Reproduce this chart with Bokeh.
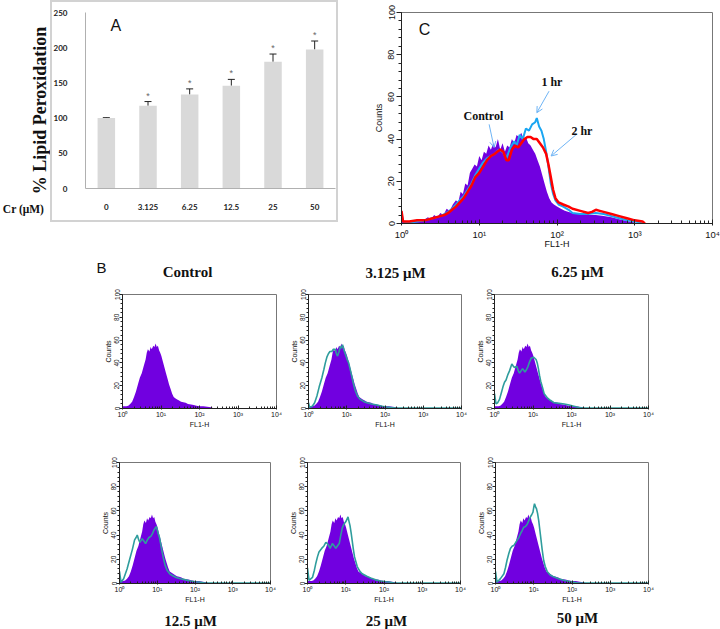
import math
from bokeh.plotting import figure
from bokeh.models import (Range1d, FactorRange, FixedTicker, Whisker, TeeHead, Label,
                          Arrow, OpenHead, ColumnDataSource)
from bokeh.layouts import row, column
from bokeh.core.properties import value
from bokeh.embed import file_html
from bokeh.resources import INLINE

# ---------------- Panel A : lipid peroxidation ----------------
conc_labels = ["0", "3.125", "6.25", "12.5", "25", "50"]
lipid_pct = [100, 117.5, 133.5, 146, 180, 197.5]
lipid_err = [0.6, 6, 8, 9, 11, 12]
signif = ["", "*", "*", "*", "*", "*"]
a_yticks = [0, 50, 100, 150, 200, 250]

# ---------------- Panel C : time course histograms (log10 FL1-H, counts) ----------------
c_ctrl_exp = [0.00, 0.02, 0.05, 0.10, 0.15, 0.20, 0.25, 0.30,
              0.34, 0.38, 0.42, 0.46, 0.50, 0.54, 0.58, 0.62, 0.66, 0.70,
              0.73, 0.76, 0.79, 0.82, 0.85, 0.88, 0.91, 0.94, 0.97, 1.00,
              1.03, 1.06, 1.09, 1.12, 1.15, 1.18, 1.21, 1.24, 1.27, 1.30,
              1.33, 1.36, 1.39, 1.42, 1.45, 1.48, 1.51, 1.54, 1.57, 1.60,
              1.63, 1.66, 1.69, 1.72, 1.75, 1.78, 1.81, 1.84, 1.87, 1.90,
              1.93, 1.96, 2.00, 2.05, 2.10, 2.15, 2.20,
              2.30, 2.40, 2.50, 2.60, 2.70, 2.80, 2.90, 3.00, 3.05]
c_ctrl_cnt = [6, 1, 0.5, 1, 0.5, 1.5, 1, 2,
              3, 2, 4, 3, 5, 4, 7, 6, 9, 11,
              10, 15, 14, 19, 18, 24, 26, 28, 27, 32,
              30, 34, 33, 37, 35, 38, 36, 40, 35, 38,
              34, 37, 36, 40, 38, 42, 41, 43, 40, 41,
              38, 37, 35, 33, 30, 27, 23, 19, 15, 12,
              10, 9, 8, 7, 6, 5.5, 5,
              4.5, 4, 4, 3.5, 3, 2, 1.2, 0.5, 0]

c_1hr_exp = [0.00, 0.02, 0.10, 0.20, 0.30, 0.40, 0.50, 0.55, 0.60, 0.65,
             0.70, 0.75, 0.80, 0.85, 0.90, 0.95, 1.00, 1.05, 1.10, 1.15,
             1.20, 1.25, 1.30, 1.35, 1.40, 1.45, 1.48, 1.52, 1.56, 1.60,
             1.64, 1.68, 1.72, 1.74, 1.77, 1.80, 1.83, 1.86, 1.89, 1.92,
             1.95, 1.98, 2.02, 2.08, 2.15, 2.20, 2.30, 2.40, 2.50, 2.60,
             2.70, 2.80, 2.90, 3.00, 3.10]
c_1hr_cnt = [5, 1, 0.5, 1, 1.5, 2.5, 3.5, 4.5, 5.5, 7,
             9, 11, 13, 16, 19, 23, 26, 29, 31, 32,
             33, 35, 34, 31, 36, 39, 37, 42, 40, 45,
             44, 47, 48, 50, 46, 44, 40, 34, 27, 19,
             14, 11, 9, 8, 6.5, 5, 4.5, 4.5, 5, 4.5,
             3.5, 2.5, 1.5, 1, 0]

c_2hr_exp = [0.00, 0.02, 0.10, 0.20, 0.30, 0.40, 0.50, 0.55, 0.60, 0.65,
             0.70, 0.75, 0.80, 0.85, 0.90, 0.95, 1.00, 1.05, 1.10, 1.15,
             1.20, 1.23, 1.27, 1.31, 1.35, 1.38, 1.42, 1.46, 1.50, 1.54,
             1.58, 1.62, 1.66, 1.70, 1.74, 1.78, 1.82, 1.86, 1.89, 1.92,
             1.95, 1.98, 2.02, 2.08, 2.15, 2.20, 2.30, 2.40, 2.45, 2.50,
             2.55, 2.60, 2.70, 2.80, 2.90, 3.00, 3.10, 3.13]
c_2hr_cnt = [6, 1, 1, 1.5, 1.5, 2.5, 3.5, 4, 5, 6.5,
             8, 10, 12, 15, 18, 22, 24, 27, 30, 32,
             33, 34, 35, 34, 30, 30, 35, 37, 36, 38,
             40, 41, 41, 40, 40, 38, 36, 33, 28, 22,
             16, 12, 10, 9, 8, 7, 6, 5, 5.5, 6.5,
             6, 5.5, 4.5, 3.5, 2.5, 1.5, 1, 0]

c_notes = ["Control", "1 hr", "2 hr"]
c_note_x = [11.3, 86, 209]
c_note_y = [51, 67, 44]
c_arrow_x0 = [13.4, 79, 175]
c_arrow_y0 = [47, 62.7, 42]
c_arrow_x1 = [15.5, 55, 84]
c_arrow_y1 = [36, 52.5, 32]

# ---------------- Panel B : dose histograms ----------------
b_titles_top = ["Control", "3.125 \u03bcM", "6.25 \u03bcM"]
b_titles_bottom = ["12.5 \u03bcM", "25 \u03bcM", "50 \u03bcM"]

b_ctrl_exp = [0.00, 0.05, 0.10, 0.15, 0.20, 0.25, 0.30, 0.35, 0.40, 0.45,
              0.50, 0.55, 0.60, 0.63, 0.66, 0.70, 0.73, 0.76, 0.80, 0.83,
              0.86, 0.89, 0.92, 0.95, 0.98, 1.01, 1.05, 1.09, 1.13, 1.17,
              1.21, 1.25, 1.29, 1.33, 1.37, 1.42, 1.47, 1.52, 1.58, 1.64,
              1.70, 1.78, 1.85, 1.92, 2.00, 2.10, 2.20, 2.30, 2.35, 2.50,
              3.00, 4.00]
b_ctrl_cnt = [2, 2, 2, 2.5, 4, 6, 10, 15, 21, 27,
              31, 37, 43, 49, 52, 50, 54, 52, 55, 54,
              57, 54, 55, 51, 49, 46, 41, 36, 31, 26,
              21, 17, 13, 10, 9, 8, 7, 6, 5.5, 5,
              4, 3.5, 3, 2.5, 2, 2, 1.5, 1, 0.5, 0.3,
              0.3, 0.3]

b_3125_exp = [0.00, 0.03, 0.10, 0.16, 0.22, 0.28, 0.35, 0.40, 0.44, 0.48,
              0.52, 0.56, 0.61, 0.65, 0.70, 0.73, 0.76, 0.80, 0.83, 0.86,
              0.89, 0.92, 0.96, 1.00, 1.05, 1.10, 1.14, 1.18, 1.22, 1.28,
              1.35, 1.45, 1.53, 1.65, 1.79, 1.92, 2.05, 2.20, 2.30, 4.00]
b_3125_cnt = [5, 1, 2, 5, 11, 19, 27, 34, 40, 45,
              48, 50, 50, 52, 52, 48, 46, 50, 54, 53,
              56, 52, 48, 44, 40, 33, 27, 21, 16, 11,
              8, 6, 5, 4, 3, 2, 1.3, 0.7, 0.3, 0.3]

b_625_exp = [0.00, 0.04, 0.08, 0.13, 0.18, 0.22, 0.26, 0.30, 0.35, 0.39,
             0.45, 0.49, 0.52, 0.58, 0.62, 0.65, 0.69, 0.73, 0.79, 0.83,
             0.86, 0.90, 0.95, 1.02, 1.08, 1.11, 1.14, 1.17, 1.20, 1.25,
             1.29, 1.38, 1.46, 1.55, 1.68, 1.81, 1.94, 2.06, 2.20, 2.30,
             4.00]
b_625_cnt = [13, 4, 5, 8, 14, 19, 23, 25, 30, 33,
             39, 37, 36, 37, 33, 31, 33, 35, 32, 34,
             36, 40, 44, 45, 43, 40, 35, 29, 24, 18,
             13, 9, 7, 5, 4.5, 4, 3, 2, 0.8, 0.3,
             0.3]

b_125_exp = [0.00, 0.04, 0.11, 0.20, 0.27, 0.34, 0.40, 0.44, 0.47, 0.51,
             0.54, 0.60, 0.65, 0.69, 0.74, 0.78, 0.83, 0.87, 0.91, 0.95,
             0.98, 1.02, 1.06, 1.09, 1.13, 1.17, 1.21, 1.26, 1.33, 1.40,
             1.50, 1.62, 1.75, 1.88, 2.00, 2.15, 2.25, 4.00]
b_125_cnt = [10, 1, 4, 12, 20, 28, 36, 38, 40, 36,
             34, 37, 35, 33, 36, 38, 39, 41, 44, 46,
             47, 42, 38, 33, 26, 20, 15, 11, 8, 6.6,
             5, 4, 3, 2, 1.5, 1, 0.3, 0.3]

b_25_exp = [0.00, 0.04, 0.13, 0.18, 0.22, 0.26, 0.30, 0.37, 0.43, 0.48,
            0.52, 0.56, 0.59, 0.62, 0.65, 0.70, 0.74, 0.78, 0.83, 0.87,
            0.91, 0.95, 1.00, 1.03, 1.06, 1.08, 1.11, 1.14, 1.17, 1.20,
            1.23, 1.30, 1.37, 1.43, 1.55, 1.65, 1.78, 1.91, 2.05, 2.17,
            2.25, 4.00]
b_25_cnt = [13, 2.6, 5, 11, 17, 22, 26, 29, 31, 34,
            33, 31, 29, 31, 33, 31, 29, 31, 33, 40,
            46, 49, 51, 53, 55, 52, 48, 42, 35, 28,
            22, 14, 10, 8, 6, 4.5, 3, 2, 1.5, 1,
            0.3, 0.3]

b_50_exp = [0.00, 0.04, 0.13, 0.22, 0.26, 0.30, 0.35, 0.39, 0.44, 0.48,
            0.53, 0.57, 0.61, 0.65, 0.70, 0.74, 0.78, 0.83, 0.87, 0.91,
            0.95, 0.98, 1.00, 1.02, 1.05, 1.07, 1.10, 1.13, 1.16, 1.19,
            1.22, 1.26, 1.30, 1.35, 1.43, 1.52, 1.65, 1.78, 1.90, 2.04,
            2.15, 4.00]
b_50_cnt = [10, 1, 4, 8, 13, 19, 25, 29, 31, 31.5,
            34, 36, 38, 41, 44, 46.5, 47, 49, 52, 55,
            57, 59, 63, 66, 63, 62, 58, 52, 44, 36,
            28, 19, 14, 10, 7, 5.5, 4, 2.7, 1.8, 1,
            0.3, 0.3]

x_major = [1, 10, 100, 1000, 10000]
x_tick_labels = ["10\u2070", "10\u00b9", "10\u00b2", "10\u00b3", "10\u2074"]
y_major = [0, 20, 40, 60, 80, 100]

# ---------------- styling ----------------
PURPLE = "#7100e0"
TEAL = "#2f9d9d"
BLUE = "#1aa6f2"
RED = "#ff0000"
ARROW = "#6fb4f5"
SERIF = "Liberation Serif"
SANS = "Liberation Sans"
INK = "#111111"

x_minor = [m * d for d in (1, 10, 100, 1000) for m in range(2, 10)]
y_minor = list(range(0, 101, 4))


def pow10(exps):
    return [10 ** e for e in exps]


def base_fig(**kw):
    p = figure(output_backend="svg", toolbar_location=None, **kw)
    p.grid.visible = False
    p.background_fill_color = "white"
    p.border_fill_color = "white"
    return p


def text_canvas(w, h):
    p = figure(frame_width=w, frame_height=h, x_range=Range1d(0, w), y_range=Range1d(h, 0),
               min_border=0, min_border_left=0, min_border_right=0, min_border_top=0,
               min_border_bottom=0, x_axis_location=None, y_axis_location=None,
               output_backend="svg", toolbar_location=None)
    p.grid.visible = False
    p.outline_line_color = None
    p.background_fill_color = "white"
    p.border_fill_color = "white"
    return p


def put_text(p, x, y, txt, font, size, bold=False, angle=0.0):
    p.text(x=[x], y=[y], text=[txt], angle=angle, text_align="center", text_baseline="middle",
           text_font=value(font), text_font_style="bold" if bold else "normal",
           text_font_size=size, text_color=INK)


def style_flow_axes(p, tick_px, lab_px, ytick_px, xt_in, xt_out, yt_out, ym_out,
                    xl_std, xa_std, yl_std, ya_std):
    xa = p.xaxis[0]
    xa.ticker = FixedTicker(ticks=x_major, minor_ticks=x_minor)
    xa.major_label_overrides = dict(zip(x_major, x_tick_labels))
    xa.major_label_text_font = SANS
    xa.major_label_text_font_size = tick_px
    xa.major_label_standoff = xl_std
    xa.major_tick_in = xt_in
    xa.major_tick_out = xt_out
    xa.minor_tick_in = xt_in - 1
    xa.minor_tick_out = 0
    xa.axis_label = "FL1-H"
    xa.axis_label_text_font = SANS
    xa.axis_label_text_font_size = lab_px
    xa.axis_label_text_font_style = "normal"
    xa.axis_label_standoff = xa_std
    ya = p.yaxis[0]
    ya.ticker = FixedTicker(ticks=y_major, minor_ticks=y_minor)
    ya.major_label_orientation = "vertical"
    ya.major_label_text_font = SANS
    ya.major_label_text_font_size = ytick_px
    ya.major_label_standoff = yl_std
    ya.major_tick_out = yt_out
    ya.major_tick_in = 0
    ya.minor_tick_out = ym_out
    ya.minor_tick_in = 0
    ya.axis_label = "Counts"
    ya.axis_label_text_font = SANS
    ya.axis_label_text_font_size = lab_px
    ya.axis_label_text_font_style = "normal"
    ya.axis_label_standoff = ya_std
    for ax in (xa, ya):
        ax.axis_line_color = "#222222"
        ax.major_tick_line_color = "#222222"
        ax.minor_tick_line_color = "#222222"
        ax.major_label_text_color = INK
        ax.axis_label_text_color = INK
    p.outline_line_color = "#777777"


ROW1_H = 257

# ---- label strip left of panel A ----
pL = text_canvas(50, ROW1_H)
put_text(pL, 39, 98, "% Lipid Peroxidation", SERIF, "18px", bold=True, angle=math.pi / 2)
put_text(pL, 23, 196, "Cr (\u03bcM)", SERIF, "11.5px", bold=True)

# ---- panel A ----
pA = base_fig(width=288, height=222, x_range=FactorRange(factors=conc_labels),
              y_range=Range1d(0, 250), min_border_left=29, min_border_right=3,
              min_border_top=12, min_border_bottom=34)
pA.border_fill_color = None
pA.outline_line_color = None
pA.styles = {"box-shadow": "inset 0 0 0 2px #d2d2d2"}
src_a = ColumnDataSource(dict(x=conc_labels, top=lipid_pct,
                              upper=[v + e for v, e in zip(lipid_pct, lipid_err)],
                              sig=signif))
pA.vbar(x="x", top="top", width=0.42, source=src_a, fill_color="#d9d9d9", line_color=None)
pA.add_layout(Whisker(source=src_a, base="x", lower="top", upper="upper", dimension="height",
                      lower_head=None,
                      upper_head=TeeHead(size=7, line_color="#222222", line_width=1),
                      line_color="#222222", line_width=1))
pA.text(x="x", y="upper", text="sig", source=src_a, text_align="center", text_baseline="bottom",
        y_offset=-1, text_font=value(SANS), text_font_size="9px", text_color="#666666")
for ax in (pA.xaxis[0], pA.yaxis[0]):
    ax.major_tick_line_color = None
    ax.minor_tick_line_color = None
    ax.axis_line_color = "#b0b0b0"
    ax.major_label_text_font = "Lato"
    ax.major_label_text_font_style = "bold"
    ax.major_label_text_font_size = "8px"
    ax.major_label_text_color = "#222222"
pA.yaxis[0].major_label_standoff = 12
pA.xaxis[0].major_label_standoff = 9
pA.yaxis[0].ticker = FixedTicker(ticks=a_yticks)
pA.add_layout(Label(x=0.73, y=231.5, text="A", text_font=SANS, text_font_size="16px",
                    text_align="center", text_baseline="middle", text_color=INK))

# ---- panel C ----
pC = base_fig(width=382, height=ROW1_H, x_axis_type="log", x_range=Range1d(1, 1e4),
              y_range=Range1d(0, 100), min_border_left=63, min_border_right=8,
              min_border_top=7, min_border_bottom=33)
pC.varea(x=pow10(c_ctrl_exp), y1=0, y2=c_ctrl_cnt, fill_color=PURPLE)
pC.line(x=pow10(c_1hr_exp), y=c_1hr_cnt, line_color=BLUE, line_width=2)
pC.line(x=pow10(c_2hr_exp), y=c_2hr_cnt, line_color=RED, line_width=2.5)
style_flow_axes(pC, "9.5px", "9px", "9px", 4, 2, 5, 3, 3, -4, 2, 2)
pC.add_layout(Label(x=1.98, y=92, text="C", text_font=SANS, text_font_size="16px",
                    text_align="center", text_baseline="middle", text_color=INK))
for i in range(len(c_notes)):
    pC.add_layout(Arrow(end=OpenHead(size=6, line_color=ARROW, line_width=1),
                        x_start=c_arrow_x0[i], y_start=c_arrow_y0[i],
                        x_end=c_arrow_x1[i], y_end=c_arrow_y1[i],
                        line_color=ARROW, line_width=1))
    pC.add_layout(Label(x=c_note_x[i], y=c_note_y[i], text=c_notes[i], text_font=SERIF,
                        text_font_style="bold", text_font_size="12px", text_align="center",
                        text_baseline="middle", text_color=INK))


# ---- panel B ----
def make_hist(texp, tcnt, width, height, mbl, mbr, mbt, mbb):
    p = base_fig(width=width, height=height, x_axis_type="log", x_range=Range1d(1, 1e4),
                 y_range=Range1d(0, 100), min_border_left=mbl, min_border_right=mbr,
                 min_border_top=mbt, min_border_bottom=mbb)
    p.varea(x=pow10(b_ctrl_exp), y1=0, y2=b_ctrl_cnt, fill_color=PURPLE)
    if texp is not None:
        p.line(x=pow10(texp), y=tcnt, line_color=TEAL, line_width=1.6)
    style_flow_axes(p, "7px", "7px", "6.5px", 3, 1, 3, 2, 1, 0, 0, 0)
    return p


# header with panel letter B and the upper titles
hB = text_canvas(720, 29)
put_text(hB, 101, 10, "B", SANS, "15px")
put_text(hB, 187, 14, b_titles_top[0], SERIF, "15px", bold=True)
put_text(hB, 395, 15, b_titles_top[1], SERIF, "15px", bold=True)
put_text(hB, 577, 14, b_titles_top[2], SERIF, "15px", bold=True)

b1 = make_hist(None, None, 282, 158, 122, 6, 5, 36)
b2 = make_hist(b_3125_exp, b_3125_cnt, 186, 158, 26, 7, 7, 27)
b3 = make_hist(b_625_exp, b_625_cnt, 252, 158, 26, 72, 8, 26)
b4 = make_hist(b_125_exp, b_125_cnt, 282, 167, 119, 12, 15, 26)
b5 = make_hist(b_25_exp, b_25_cnt, 186, 167, 25, 8, 14, 26)
b6 = make_hist(b_50_exp, b_50_cnt, 252, 167, 27, 72, 18, 28)

# footer with the lower titles
fB = text_canvas(720, 18)
put_text(fB, 190, 9, b_titles_bottom[0], SERIF, "15px", bold=True)
put_text(fB, 386, 9, b_titles_bottom[1], SERIF, "15px", bold=True)
put_text(fB, 577, 6, b_titles_bottom[2], SERIF, "15px", bold=True)

layout = column(row(pL, pA, pC), hB, row(b1, b2, b3), row(b4, b5, b6), fB)
open("out.html", "w").write(file_html(layout, INLINE, title="Lipid peroxidation and flow cytometry"))
